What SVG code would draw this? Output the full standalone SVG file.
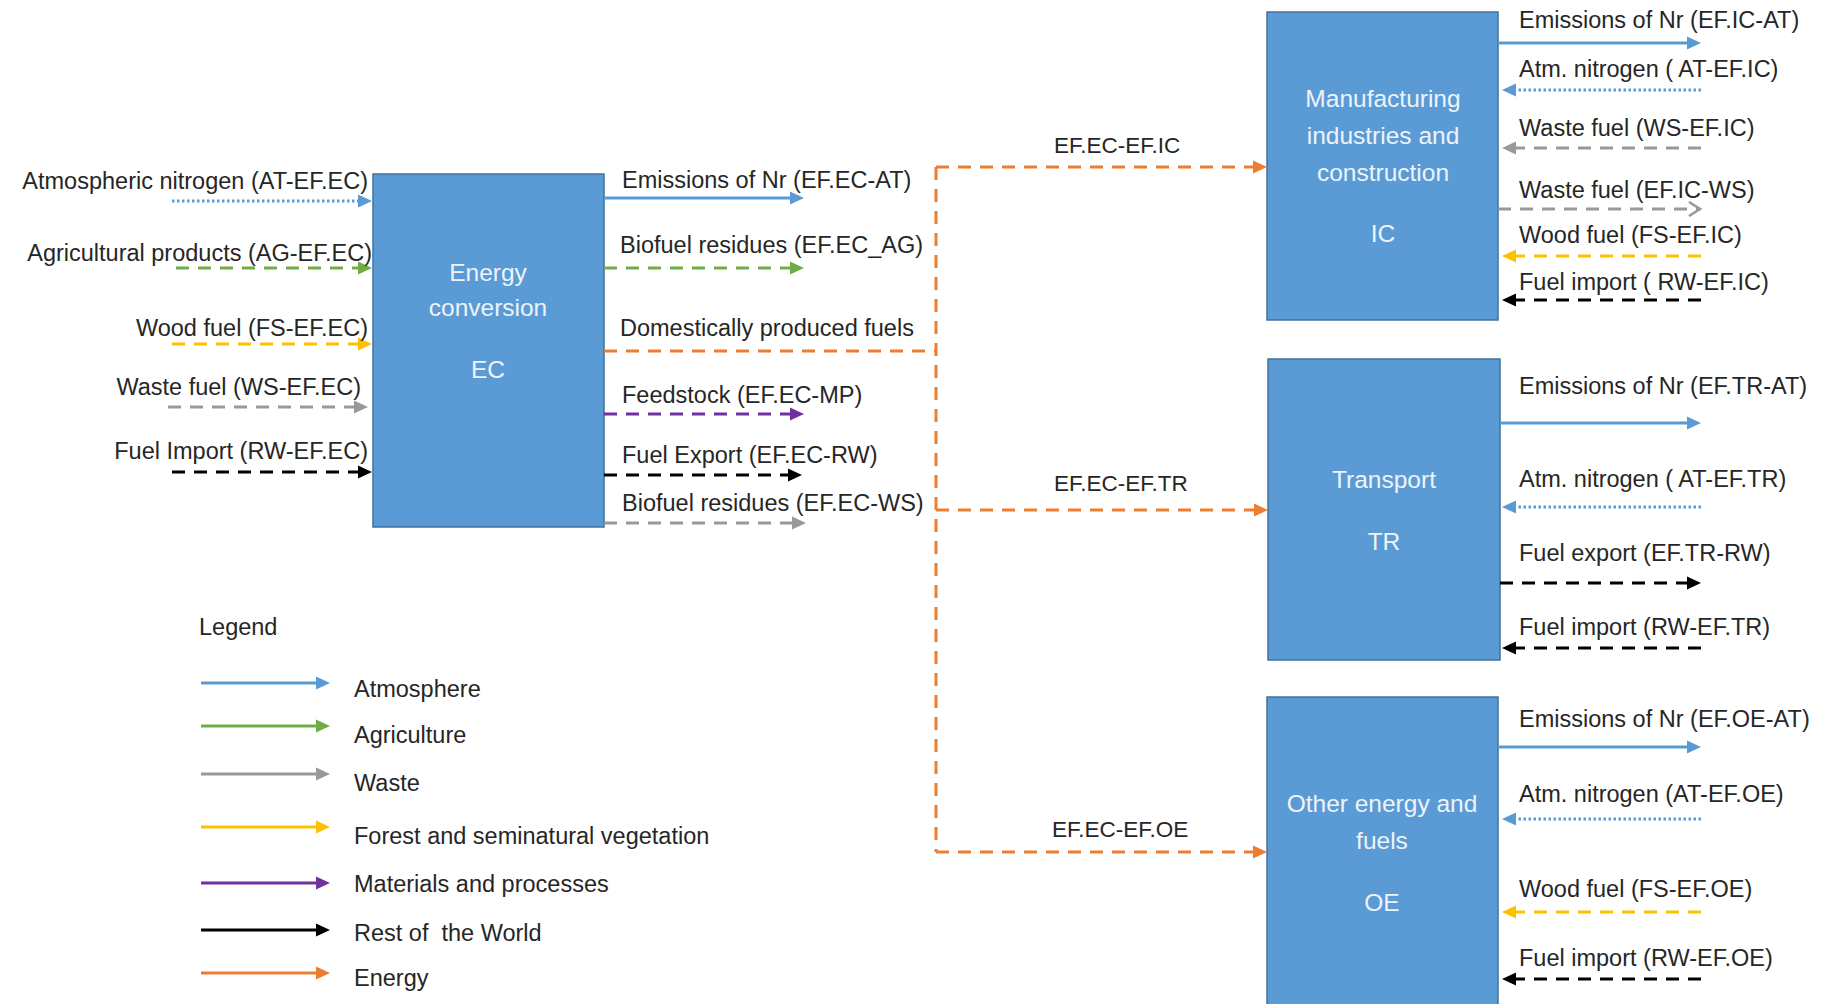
<svg xmlns="http://www.w3.org/2000/svg" width="1823" height="1004" viewBox="0 0 1823 1004">
<defs>
<style>
text{font-family:"Liberation Sans",Arial,sans-serif;font-size:23.5px;fill:#262626}
.bt{fill:#EEF3FA;font-size:24.5px;text-anchor:middle}
.sm{font-size:22.5px}
.box{fill:#5B9BD5;stroke:#41719C;stroke-width:1.5}
.ln{fill:none;stroke-width:3}
.dash{stroke-dasharray:13 9}
.dot{stroke-dasharray:2.5 2.5}
.blue{stroke:#5B9BD5}.green{stroke:#70AD47}.gray{stroke:#999999}.yellow{stroke:#FFC000}
.purple{stroke:#7030A0}.black{stroke:#000000}.orange{stroke:#ED7D31}
.end{text-anchor:end}
</style>
<marker id="aBlue" markerUnits="userSpaceOnUse" markerWidth="14" markerHeight="14" viewBox="0 0 14 14" refX="7" refY="7" orient="auto"><path d="M0,0.5 L14,7 L0,13.5 Z" fill="#5B9BD5"/></marker>
<marker id="aGreen" markerUnits="userSpaceOnUse" markerWidth="14" markerHeight="14" viewBox="0 0 14 14" refX="7" refY="7" orient="auto"><path d="M0,0.5 L14,7 L0,13.5 Z" fill="#70AD47"/></marker>
<marker id="aGray" markerUnits="userSpaceOnUse" markerWidth="14" markerHeight="14" viewBox="0 0 14 14" refX="7" refY="7" orient="auto"><path d="M0,0.5 L14,7 L0,13.5 Z" fill="#999999"/></marker>
<marker id="aGrayOpen" markerUnits="userSpaceOnUse" markerWidth="14" markerHeight="16" viewBox="0 0 14 16" refX="12" refY="8" orient="auto"><path d="M1,1 L12,8 L1,15" fill="none" stroke="#999999" stroke-width="2.5"/></marker>
<marker id="aYellow" markerUnits="userSpaceOnUse" markerWidth="14" markerHeight="14" viewBox="0 0 14 14" refX="7" refY="7" orient="auto"><path d="M0,0.5 L14,7 L0,13.5 Z" fill="#FFC000"/></marker>
<marker id="aPurple" markerUnits="userSpaceOnUse" markerWidth="14" markerHeight="14" viewBox="0 0 14 14" refX="7" refY="7" orient="auto"><path d="M0,0.5 L14,7 L0,13.5 Z" fill="#7030A0"/></marker>
<marker id="aBlack" markerUnits="userSpaceOnUse" markerWidth="14" markerHeight="14" viewBox="0 0 14 14" refX="7" refY="7" orient="auto"><path d="M0,0.5 L14,7 L0,13.5 Z" fill="#000000"/></marker>
<marker id="aOrange" markerUnits="userSpaceOnUse" markerWidth="14" markerHeight="14" viewBox="0 0 14 14" refX="7" refY="7" orient="auto"><path d="M0,0.5 L14,7 L0,13.5 Z" fill="#ED7D31"/></marker>
</defs>
<rect width="1823" height="1004" fill="#FFFFFF"/>

<g id="node-EC">
<rect class="box" x="373" y="174" width="231" height="353"/>
<text class="bt" x="488" y="281">Energy</text>
<text class="bt" x="488" y="316">conversion</text>
<text class="bt" x="488" y="378">EC</text>
</g>

<g id="node-IC">
<rect class="box" x="1267" y="12" width="231" height="308"/>
<text class="bt" x="1383" y="107">Manufacturing</text>
<text class="bt" x="1383" y="144">industries and</text>
<text class="bt" x="1383" y="181">construction</text>
<text class="bt" x="1383" y="242">IC</text>
</g>

<g id="node-TR">
<rect class="box" x="1268" y="359" width="232" height="301"/>
<text class="bt" x="1384" y="488">Transport</text>
<text class="bt" x="1384" y="550">TR</text>
</g>

<g id="node-OE">
<rect class="box" x="1267" y="697" width="231" height="320"/>
<text class="bt" x="1382" y="812">Other energy and</text>
<text class="bt" x="1382" y="849">fuels</text>
<text class="bt" x="1382" y="911">OE</text>
</g>

<g id="connectors">
<line class="ln dot blue" x1="172" y1="201" x2="365" y2="201" marker-end="url(#aBlue)"/>
<line class="ln dash green" x1="176" y1="268" x2="365" y2="268" marker-end="url(#aGreen)"/>
<line class="ln dash yellow" x1="172" y1="344" x2="365" y2="344" marker-end="url(#aYellow)"/>
<line class="ln dash gray" x1="168" y1="407" x2="361" y2="407" marker-end="url(#aGray)"/>
<line class="ln dash black" x1="172" y1="472" x2="365" y2="472" marker-end="url(#aBlack)"/>
<line class="ln blue" x1="604" y1="198" x2="797" y2="198" marker-end="url(#aBlue)"/>
<line class="ln dash green" x1="604" y1="268" x2="797" y2="268" marker-end="url(#aGreen)"/>
<line class="ln dash purple" x1="604" y1="414" x2="797" y2="414" marker-end="url(#aPurple)"/>
<line class="ln dash black" x1="604" y1="475" x2="795" y2="475" marker-end="url(#aBlack)"/>
<line class="ln dash gray" x1="604" y1="523" x2="799" y2="523" marker-end="url(#aGray)"/>
<path class="ln dash orange" d="M604,351 H936"/>
<path class="ln dash orange" d="M936,167 V852"/>
<line class="ln dash orange" x1="936" y1="167" x2="1260" y2="167" marker-end="url(#aOrange)"/>
<line class="ln dash orange" x1="936" y1="510" x2="1261" y2="510" marker-end="url(#aOrange)"/>
<line class="ln dash orange" x1="936" y1="852" x2="1260" y2="852" marker-end="url(#aOrange)"/>
<line class="ln blue" x1="1498" y1="43" x2="1694" y2="43" marker-end="url(#aBlue)"/>
<line class="ln dot blue" x1="1701" y1="90" x2="1509" y2="90" marker-end="url(#aBlue)"/>
<line class="ln dash gray" x1="1701" y1="148" x2="1509" y2="148" marker-end="url(#aGray)"/>
<line class="ln dash gray" x1="1498" y1="209" x2="1700" y2="209" marker-end="url(#aGrayOpen)"/>
<line class="ln dash yellow" x1="1701" y1="256" x2="1509" y2="256" marker-end="url(#aYellow)"/>
<line class="ln dash black" x1="1701" y1="300" x2="1509" y2="300" marker-end="url(#aBlack)"/>
<line class="ln blue" x1="1500" y1="423" x2="1694" y2="423" marker-end="url(#aBlue)"/>
<line class="ln dot blue" x1="1701" y1="507" x2="1509" y2="507" marker-end="url(#aBlue)"/>
<line class="ln dash black" x1="1500" y1="583" x2="1694" y2="583" marker-end="url(#aBlack)"/>
<line class="ln dash black" x1="1701" y1="648" x2="1509" y2="648" marker-end="url(#aBlack)"/>
<line class="ln blue" x1="1498" y1="747" x2="1694" y2="747" marker-end="url(#aBlue)"/>
<line class="ln dot blue" x1="1701" y1="819" x2="1509" y2="819" marker-end="url(#aBlue)"/>
<line class="ln dash yellow" x1="1701" y1="912" x2="1509" y2="912" marker-end="url(#aYellow)"/>
<line class="ln dash black" x1="1701" y1="979" x2="1509" y2="979" marker-end="url(#aBlack)"/>
</g>

<g id="labels">
<text class="end" x="368" y="189">Atmospheric nitrogen (AT-EF.EC)</text>
<text class="end" x="372" y="261">Agricultural products (AG-EF.EC)</text>
<text class="end" x="368" y="336">Wood fuel (FS-EF.EC)</text>
<text class="end" x="361" y="395">Waste fuel (WS-EF.EC)</text>
<text class="end" x="368" y="459">Fuel Import (RW-EF.EC)</text>

<text x="622" y="188">Emissions of Nr (EF.EC-AT)</text>
<text x="620" y="253">Biofuel residues (EF.EC_AG)</text>
<text x="620" y="336">Domestically produced fuels</text>
<text x="622" y="403">Feedstock (EF.EC-MP)</text>
<text x="622" y="463">Fuel Export (EF.EC-RW)</text>
<text x="622" y="511">Biofuel residues (EF.EC-WS)</text>

<text class="sm" x="1054" y="153">EF.EC-EF.IC</text>
<text class="sm" x="1054" y="491">EF.EC-EF.TR</text>
<text class="sm" x="1052" y="837">EF.EC-EF.OE</text>

<text x="1519" y="28">Emissions of Nr (EF.IC-AT)</text>
<text x="1519" y="77">Atm. nitrogen ( AT-EF.IC)</text>
<text x="1519" y="136">Waste fuel (WS-EF.IC)</text>
<text x="1519" y="198">Waste fuel (EF.IC-WS)</text>
<text x="1519" y="243">Wood fuel (FS-EF.IC)</text>
<text x="1519" y="290">Fuel import ( RW-EF.IC)</text>

<text x="1519" y="394">Emissions of Nr (EF.TR-AT)</text>
<text x="1519" y="487">Atm. nitrogen ( AT-EF.TR)</text>
<text x="1519" y="561">Fuel export (EF.TR-RW)</text>
<text x="1519" y="635">Fuel import (RW-EF.TR)</text>

<text x="1519" y="727">Emissions of Nr (EF.OE-AT)</text>
<text x="1519" y="802">Atm. nitrogen (AT-EF.OE)</text>
<text x="1519" y="897">Wood fuel (FS-EF.OE)</text>
<text x="1519" y="966">Fuel import (RW-EF.OE)</text>
</g>

<g id="legend">
<text x="199" y="635">Legend</text>
<line class="ln blue" x1="201" y1="683" x2="323" y2="683" marker-end="url(#aBlue)"/>
<line class="ln green" x1="201" y1="726" x2="323" y2="726" marker-end="url(#aGreen)"/>
<line class="ln gray" x1="201" y1="774" x2="323" y2="774" marker-end="url(#aGray)"/>
<line class="ln yellow" x1="201" y1="827" x2="323" y2="827" marker-end="url(#aYellow)"/>
<line class="ln purple" x1="201" y1="883" x2="323" y2="883" marker-end="url(#aPurple)"/>
<line class="ln black" x1="201" y1="930" x2="323" y2="930" marker-end="url(#aBlack)"/>
<line class="ln orange" x1="201" y1="973" x2="323" y2="973" marker-end="url(#aOrange)"/>
<text x="354" y="697">Atmosphere</text>
<text x="354" y="743">Agriculture</text>
<text x="354" y="791">Waste</text>
<text x="354" y="844">Forest and seminatural vegetation</text>
<text x="354" y="892">Materials and processes</text>
<text x="354" y="941" style="white-space:pre">Rest of  the World</text>
<text x="354" y="986">Energy</text>
</g>
</svg>
